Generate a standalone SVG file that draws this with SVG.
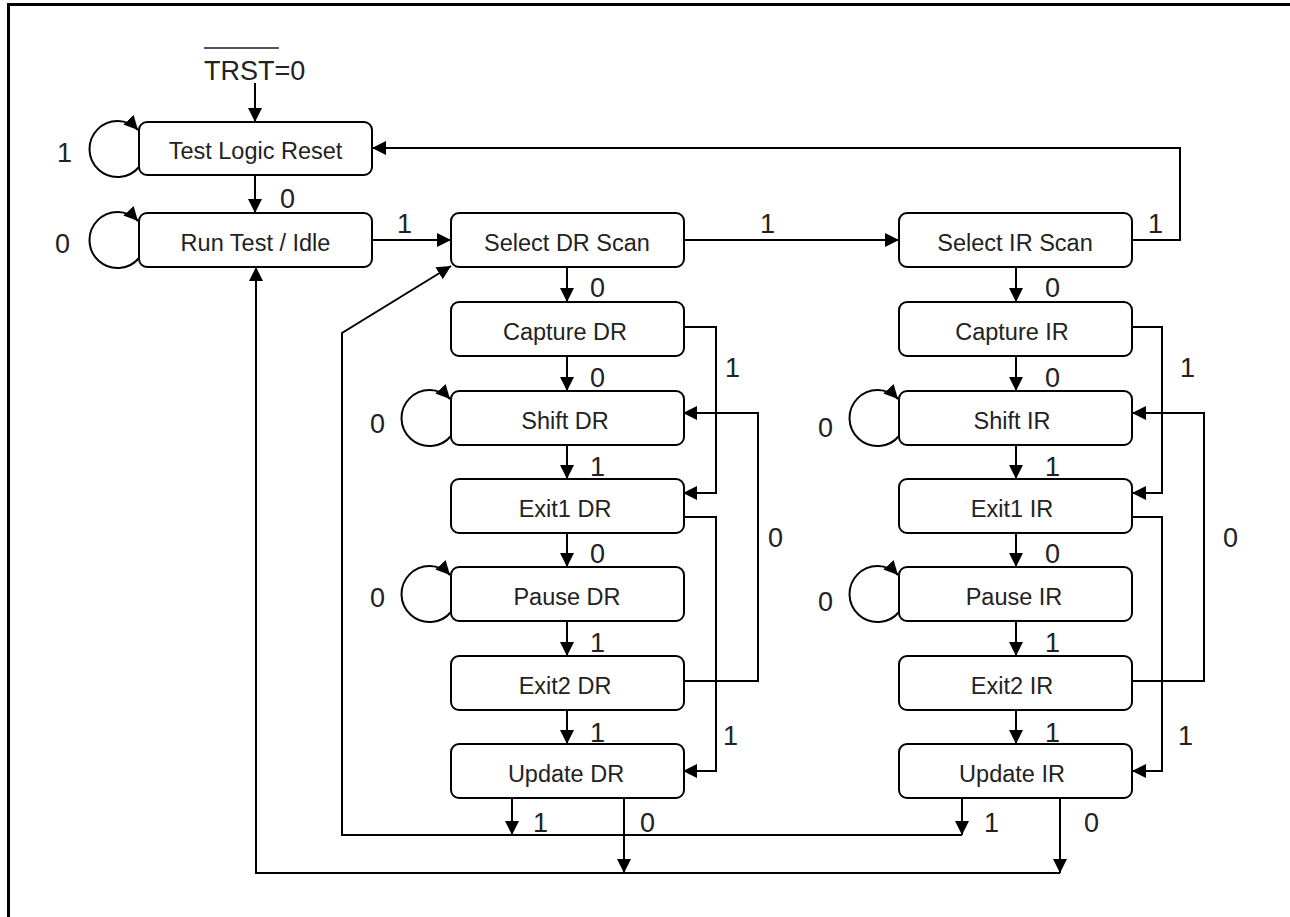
<svg xmlns="http://www.w3.org/2000/svg" width="1290" height="917" viewBox="0 0 1290 917">
<style>
.node rect{fill:#fff;stroke:#000;stroke-width:2}
.node text{font-family:"Liberation Sans",Arial,sans-serif;font-size:23.5px;fill:#222;text-anchor:middle}
.lbl{font-family:"Liberation Sans",Arial,sans-serif;font-size:27px;fill:#222}
.c{fill:none;stroke:#000;stroke-width:2}
.a{marker-end:url(#ah)}
</style>
<defs>
<marker id="ah" markerUnits="userSpaceOnUse" markerWidth="14" markerHeight="14" refX="14" refY="7" orient="auto" viewBox="0 0 14 14">
<path d="M0,0 L14,7 L0,14 z" fill="#000"/>
</marker>
</defs>
<rect width="1290" height="917" fill="#fff"/>
<g id="frame">
<line x1="8.5" y1="4.5" x2="1290" y2="4.5" stroke="#000" stroke-width="3"/>
<line x1="8.5" y1="3" x2="8.5" y2="917" stroke="#000" stroke-width="3"/>
</g>
<g id="connectors">
<path class="c a" d="M255,83 L255,122"/>
<path class="c a" d="M139,167 A28,28 0 1 1 138,130"/>
<path class="c a" d="M139,258 A28,28 0 1 1 138,221"/>
<path class="c a" d="M255,175 L255,213"/>
<path class="c a" d="M372,240 L451,240"/>
<path class="c a" d="M683,240 L899,240"/>
<path class="c a" d="M1132,240 L1180,240 L1180,148 L372,148"/>
<path class="c a" d="M567,267 L567,302"/>
<path class="c a" d="M567,356 L567,391"/>
<path class="c a" d="M567,445 L567,479"/>
<path class="c a" d="M567,533 L567,567"/>
<path class="c a" d="M567,621 L567,656"/>
<path class="c a" d="M567,710 L567,744"/>
<path class="c a" d="M1016,267 L1016,302"/>
<path class="c a" d="M1016,356 L1016,391"/>
<path class="c a" d="M1016,445 L1016,479"/>
<path class="c a" d="M1016,533 L1016,567"/>
<path class="c a" d="M1016,621 L1016,656"/>
<path class="c a" d="M1016,710 L1016,744"/>
<path class="c a" d="M451,436 A28,28 0 1 1 450,399"/>
<path class="c a" d="M451,612 A28,28 0 1 1 450,575"/>
<path class="c a" d="M899,436 A28,28 0 1 1 898,399"/>
<path class="c a" d="M899,612 A28,28 0 1 1 898,575"/>
<path class="c a" d="M683,327 L716,327 L716,493 L683,493"/>
<path class="c a" d="M683,517 L716,517 L716,771 L683,771"/>
<path class="c a" d="M683,681 L758,681 L758,413 L683,413"/>
<path class="c a" d="M1132,327 L1162,327 L1162,493 L1132,493"/>
<path class="c a" d="M1132,517 L1162,517 L1162,771 L1132,771"/>
<path class="c a" d="M1132,681 L1204,681 L1204,413 L1132,413"/>
<path class="c a" d="M512,798 L512,835"/>
<path class="c a" d="M624,798 L624,873"/>
<path class="c a" d="M962,798 L962,835"/>
<path class="c a" d="M1060,798 L1060,873"/>
<path class="c a" d="M962,835 L342,835 L342,333 L451,266"/>
<path class="c a" d="M1060,873 L256,873 L256,267"/>
</g>
<g id="labels">
<text class="lbl" x="204" y="80">TRST=0</text>
<line x1="204" y1="48" x2="279" y2="48" stroke="#222" stroke-width="1.5"/>
<text class="lbl" x="57" y="162">1</text>
<text class="lbl" x="55" y="253">0</text>
<text class="lbl" x="280" y="208">0</text>
<text class="lbl" x="397" y="233">1</text>
<text class="lbl" x="760" y="233">1</text>
<text class="lbl" x="1148" y="233">1</text>
<text class="lbl" x="590" y="297">0</text>
<text class="lbl" x="590" y="387">0</text>
<text class="lbl" x="590" y="476">1</text>
<text class="lbl" x="590" y="563">0</text>
<text class="lbl" x="590" y="652">1</text>
<text class="lbl" x="590" y="742">1</text>
<text class="lbl" x="1045" y="297">0</text>
<text class="lbl" x="1045" y="387">0</text>
<text class="lbl" x="1045" y="476">1</text>
<text class="lbl" x="1045" y="563">0</text>
<text class="lbl" x="1045" y="652">1</text>
<text class="lbl" x="1045" y="742">1</text>
<text class="lbl" x="370" y="433">0</text>
<text class="lbl" x="370" y="607">0</text>
<text class="lbl" x="818" y="437">0</text>
<text class="lbl" x="818" y="611">0</text>
<text class="lbl" x="725" y="377">1</text>
<text class="lbl" x="723" y="745">1</text>
<text class="lbl" x="768" y="547">0</text>
<text class="lbl" x="1180" y="377">1</text>
<text class="lbl" x="1178" y="745">1</text>
<text class="lbl" x="1223" y="547">0</text>
<text class="lbl" x="533" y="832">1</text>
<text class="lbl" x="640" y="832">0</text>
<text class="lbl" x="984" y="832">1</text>
<text class="lbl" x="1084" y="832">0</text>
</g>
<g id="test-logic-reset" class="node"><rect x="139" y="122" width="233" height="53" rx="8"/><text x="255.5" y="159">Test Logic Reset</text></g>
<g id="run-test-idle" class="node"><rect x="139" y="213" width="233" height="54" rx="8"/><text x="255.5" y="251">Run Test / Idle</text></g>
<g id="select-dr-scan" class="node"><rect x="451" y="213" width="233" height="54" rx="8"/><text x="567" y="251">Select DR Scan</text></g>
<g id="capture-dr" class="node"><rect x="451" y="302" width="233" height="54" rx="8"/><text x="565" y="340">Capture DR</text></g>
<g id="shift-dr" class="node"><rect x="451" y="391" width="233" height="54" rx="8"/><text x="565" y="429">Shift DR</text></g>
<g id="exit1-dr" class="node"><rect x="451" y="479" width="233" height="54" rx="8"/><text x="565" y="517">Exit1 DR</text></g>
<g id="pause-dr" class="node"><rect x="451" y="567" width="233" height="54" rx="8"/><text x="567" y="605">Pause DR</text></g>
<g id="exit2-dr" class="node"><rect x="451" y="656" width="233" height="54" rx="8"/><text x="565" y="694">Exit2 DR</text></g>
<g id="update-dr" class="node"><rect x="451" y="744" width="233" height="54" rx="8"/><text x="566" y="782">Update DR</text></g>
<g id="select-ir-scan" class="node"><rect x="899" y="213" width="233" height="54" rx="8"/><text x="1015" y="251">Select IR Scan</text></g>
<g id="capture-ir" class="node"><rect x="899" y="302" width="233" height="54" rx="8"/><text x="1012" y="340">Capture IR</text></g>
<g id="shift-ir" class="node"><rect x="899" y="391" width="233" height="54" rx="8"/><text x="1012" y="429">Shift IR</text></g>
<g id="exit1-ir" class="node"><rect x="899" y="479" width="233" height="54" rx="8"/><text x="1012" y="517">Exit1 IR</text></g>
<g id="pause-ir" class="node"><rect x="899" y="567" width="233" height="54" rx="8"/><text x="1014" y="605">Pause IR</text></g>
<g id="exit2-ir" class="node"><rect x="899" y="656" width="233" height="54" rx="8"/><text x="1012" y="694">Exit2 IR</text></g>
<g id="update-ir" class="node"><rect x="899" y="744" width="233" height="54" rx="8"/><text x="1012" y="782">Update IR</text></g>
</svg>
